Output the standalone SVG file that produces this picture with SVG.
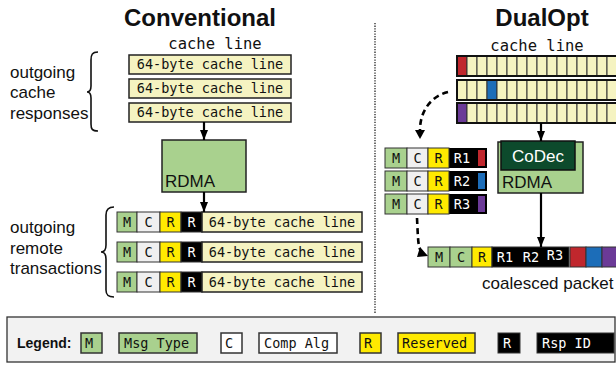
<svg xmlns="http://www.w3.org/2000/svg" width="616" height="365" viewBox="0 0 616 365">
<style>
.title{font-family:"Liberation Sans",Arial,sans-serif;font-weight:bold;font-size:24px;fill:#111}
.lbl{font-family:"Liberation Sans",Arial,sans-serif;font-size:17px;fill:#111}
.mono{font-family:"DejaVu Sans Mono","Liberation Mono",monospace;font-size:13.5px;fill:#111}
.monow{font-family:"DejaVu Sans Mono","Liberation Mono",monospace;font-size:13.5px;fill:#fff}
.hdr{font-family:"DejaVu Sans Mono","Liberation Mono",monospace;font-size:15.5px;fill:#111}
.cl{fill:#f5f3c1;stroke:#222;stroke-width:1.5}
.clrow{fill:none;stroke:#111;stroke-width:2}
.cell{fill:#f5f3c1;stroke:#333;stroke-width:1}
.m{fill:#a9d18e;stroke:#333;stroke-width:1}
.c{fill:#f0f0f0;stroke:#333;stroke-width:1}
.r{fill:#ffea00;stroke:#333;stroke-width:1}
.k{fill:#000;stroke:#333;stroke-width:1}
.brace{fill:none;stroke:#111;stroke-width:1.6}
.arr{stroke:#000;stroke-width:2.2;fill:none}
.dash{stroke:#000;stroke-width:2.6;fill:none;stroke-dasharray:6 4}
</style>
<defs>
<marker id="ah" viewBox="0 0 10 8" refX="10" refY="4" markerWidth="10" markerHeight="8" markerUnits="userSpaceOnUse" orient="auto">
<path d="M0,0 L10,4 L0,8 Z" fill="#000"/>
</marker>
</defs>

<!-- divider -->
<line x1="375" y1="23" x2="375" y2="313" stroke="#222" stroke-width="1.3" stroke-dasharray="1.3 1.3"/>

<!-- Conventional side -->
<g id="title-conv">
<text class="title" x="200" y="26" text-anchor="middle">Conventional</text>
<text class="hdr" x="215" y="49" text-anchor="middle">cache line</text>
</g>

<g id="label-responses">
<text class="lbl" x="10" y="78">outgoing</text>
<text class="lbl" x="10" y="98">cache</text>
<text class="lbl" x="10" y="119">responses</text>
<path class="brace" d="M98,52 C92,52 91,55 91,60 L91,86 C91,90 90,92 87,92 C90,92 91,94 91,98 L91,124 C91,129 92,131 98,131"/>
</g>

<g id="conv-cachelines">
<rect class="cl" x="129" y="55" width="162" height="19"/>
<text class="mono" x="210" y="69" text-anchor="middle">64-byte cache line</text>
<rect class="cl" x="129" y="79" width="162" height="19"/>
<text class="mono" x="210" y="93" text-anchor="middle">64-byte cache line</text>
<rect class="cl" x="129" y="103" width="162" height="19"/>
<text class="mono" x="210" y="117" text-anchor="middle">64-byte cache line</text>
</g>

<g id="conv-rdma">
<rect x="162" y="140" width="84" height="52" fill="#a9d18e" stroke="#222" stroke-width="1.5"/>
<text class="lbl" x="165" y="187">RDMA</text>
</g>

<g id="label-transactions">
<text class="lbl" x="10" y="233">outgoing</text>
<text class="lbl" x="10" y="254">remote</text>
<text class="lbl" x="10" y="274">transactions</text>
<path class="brace" d="M114,207 C108,207 106,210 106,215 L106,245 C106,249 105,252 101,252 C105,252 106,255 106,259 L106,290 C106,295 108,297 114,297"/>
</g>

<g id="conv-transactions">
<g>
<rect class="m" x="117" y="212" width="20" height="20"/><text class="mono" x="127" y="227" text-anchor="middle">M</text>
<rect class="c" x="137" y="212" width="23" height="20"/><text class="mono" x="148.5" y="227" text-anchor="middle">C</text>
<rect class="r" x="160" y="212" width="21" height="20"/><text class="mono" x="170.5" y="227" text-anchor="middle">R</text>
<rect class="k" x="181" y="212" width="21" height="20"/><text class="monow" x="191.5" y="227" text-anchor="middle">R</text>
<rect class="cl" x="202" y="212" width="160" height="20"/><text class="mono" x="282" y="227" text-anchor="middle">64-byte cache line</text>
</g>
<g>
<rect class="m" x="117" y="242" width="20" height="20"/><text class="mono" x="127" y="257" text-anchor="middle">M</text>
<rect class="c" x="137" y="242" width="23" height="20"/><text class="mono" x="148.5" y="257" text-anchor="middle">C</text>
<rect class="r" x="160" y="242" width="21" height="20"/><text class="mono" x="170.5" y="257" text-anchor="middle">R</text>
<rect class="k" x="181" y="242" width="21" height="20"/><text class="monow" x="191.5" y="257" text-anchor="middle">R</text>
<rect class="cl" x="202" y="242" width="160" height="20"/><text class="mono" x="282" y="257" text-anchor="middle">64-byte cache line</text>
</g>
<g>
<rect class="m" x="117" y="272" width="20" height="20"/><text class="mono" x="127" y="287" text-anchor="middle">M</text>
<rect class="c" x="137" y="272" width="23" height="20"/><text class="mono" x="148.5" y="287" text-anchor="middle">C</text>
<rect class="r" x="160" y="272" width="21" height="20"/><text class="mono" x="170.5" y="287" text-anchor="middle">R</text>
<rect class="k" x="181" y="272" width="21" height="20"/><text class="monow" x="191.5" y="287" text-anchor="middle">R</text>
<rect class="cl" x="202" y="272" width="160" height="20"/><text class="mono" x="282" y="287" text-anchor="middle">64-byte cache line</text>
</g>
</g>

<!-- DualOpt side -->
<g id="title-dual">
<text class="title" x="542" y="26" text-anchor="middle">DualOpt</text>
<text class="hdr" x="537" y="51" text-anchor="middle">cache line</text>
</g>

<g id="dual-cachelines">
<g id="row1">
<rect class="cell" x="457" y="56" width="10" height="20" fill="#c0272d" style="fill:#c0272d"/>
<rect class="cell" x="467" y="56" width="10" height="20"/><rect class="cell" x="477" y="56" width="10" height="20"/><rect class="cell" x="487" y="56" width="10" height="20"/><rect class="cell" x="497" y="56" width="10" height="20"/><rect class="cell" x="507" y="56" width="10" height="20"/><rect class="cell" x="517" y="56" width="10" height="20"/><rect class="cell" x="527" y="56" width="10" height="20"/><rect class="cell" x="537" y="56" width="10" height="20"/><rect class="cell" x="547" y="56" width="10" height="20"/><rect class="cell" x="557" y="56" width="10" height="20"/><rect class="cell" x="567" y="56" width="10" height="20"/><rect class="cell" x="577" y="56" width="10" height="20"/><rect class="cell" x="587" y="56" width="10" height="20"/><rect class="cell" x="597" y="56" width="10" height="20"/><rect class="cell" x="607" y="56" width="10" height="20"/>
<rect class="clrow" x="457" y="56" width="170" height="20"/>
</g>
<g id="row2">
<rect class="cell" x="457" y="80" width="10" height="20"/><rect class="cell" x="467" y="80" width="10" height="20"/><rect class="cell" x="477" y="80" width="10" height="20"/>
<rect class="cell" x="487" y="80" width="10" height="20" style="fill:#1c6db8"/>
<rect class="cell" x="497" y="80" width="10" height="20"/><rect class="cell" x="507" y="80" width="10" height="20"/><rect class="cell" x="517" y="80" width="10" height="20"/><rect class="cell" x="527" y="80" width="10" height="20"/><rect class="cell" x="537" y="80" width="10" height="20"/><rect class="cell" x="547" y="80" width="10" height="20"/><rect class="cell" x="557" y="80" width="10" height="20"/><rect class="cell" x="567" y="80" width="10" height="20"/><rect class="cell" x="577" y="80" width="10" height="20"/><rect class="cell" x="587" y="80" width="10" height="20"/><rect class="cell" x="597" y="80" width="10" height="20"/><rect class="cell" x="607" y="80" width="10" height="20"/>
<rect class="clrow" x="457" y="80" width="170" height="20"/>
</g>
<g id="row3">
<rect class="cell" x="457" y="103" width="10" height="20" style="fill:#6b3a97"/>
<rect class="cell" x="467" y="103" width="10" height="20"/><rect class="cell" x="477" y="103" width="10" height="20"/><rect class="cell" x="487" y="103" width="10" height="20"/><rect class="cell" x="497" y="103" width="10" height="20"/><rect class="cell" x="507" y="103" width="10" height="20"/><rect class="cell" x="517" y="103" width="10" height="20"/><rect class="cell" x="527" y="103" width="10" height="20"/><rect class="cell" x="537" y="103" width="10" height="20"/><rect class="cell" x="547" y="103" width="10" height="20"/><rect class="cell" x="557" y="103" width="10" height="20"/><rect class="cell" x="567" y="103" width="10" height="20"/><rect class="cell" x="577" y="103" width="10" height="20"/><rect class="cell" x="587" y="103" width="10" height="20"/><rect class="cell" x="597" y="103" width="10" height="20"/><rect class="cell" x="607" y="103" width="10" height="20"/>
<rect class="clrow" x="457" y="103" width="170" height="20"/>
</g>
</g>

<g id="dual-rdma">
<rect x="498" y="142" width="85" height="51" fill="#a9d18e" stroke="#222" stroke-width="1.5"/>
<text class="lbl" x="502" y="188">RDMA</text>
</g>
<g id="codec">
<rect x="501" y="141" width="74" height="29" fill="#0d4a2c" stroke="#111" stroke-width="1.5"/>
<text class="lbl" x="538" y="162" text-anchor="middle" fill="#fff" style="fill:#fff">CoDec</text>
</g>

<g id="dual-pieces">
<g>
<rect x="385" y="148" width="102" height="20" fill="#000"/>
<rect class="m" x="385" y="148" width="22" height="20"/><text class="mono" x="396" y="163" text-anchor="middle">M</text>
<rect class="c" x="407" y="148" width="21" height="20"/><text class="mono" x="417.5" y="163" text-anchor="middle">C</text>
<rect class="r" x="428" y="148" width="21" height="20"/><text class="mono" x="438.5" y="163" text-anchor="middle">R</text>
<text class="monow" x="462" y="163" text-anchor="middle">R1</text>
<rect x="478" y="150" width="7" height="16" fill="#c0272d"/>
</g>
<g>
<rect x="385" y="171" width="102" height="20" fill="#000"/>
<rect class="m" x="385" y="171" width="22" height="20"/><text class="mono" x="396" y="186" text-anchor="middle">M</text>
<rect class="c" x="407" y="171" width="21" height="20"/><text class="mono" x="417.5" y="186" text-anchor="middle">C</text>
<rect class="r" x="428" y="171" width="21" height="20"/><text class="mono" x="438.5" y="186" text-anchor="middle">R</text>
<text class="monow" x="462" y="186" text-anchor="middle">R2</text>
<rect x="478" y="173" width="7" height="16" fill="#1c6db8"/>
</g>
<g>
<rect x="385" y="194" width="102" height="20" fill="#000"/>
<rect class="m" x="385" y="194" width="22" height="20"/><text class="mono" x="396" y="209" text-anchor="middle">M</text>
<rect class="c" x="407" y="194" width="21" height="20"/><text class="mono" x="417.5" y="209" text-anchor="middle">C</text>
<rect class="r" x="428" y="194" width="21" height="20"/><text class="mono" x="438.5" y="209" text-anchor="middle">R</text>
<text class="monow" x="462" y="209" text-anchor="middle">R3</text>
<rect x="478" y="196" width="7" height="16" fill="#6b3a97"/>
</g>
</g>

<g id="coalesced-packet">
<rect class="m" x="428" y="247" width="22" height="20"/><text class="mono" x="439" y="262" text-anchor="middle">M</text>
<rect class="m" x="450" y="247" width="22" height="20"/><text class="mono" x="461" y="262" text-anchor="middle">C</text>
<rect class="r" x="472" y="247" width="20" height="20"/><text class="mono" x="482" y="262" text-anchor="middle">R</text>
<rect class="k" x="492" y="247" width="77" height="20"/>
<text class="monow" x="505" y="262" text-anchor="middle">R1</text>
<text class="monow" x="531" y="262" text-anchor="middle">R2</text>
<text class="monow" x="555" y="260" text-anchor="middle">R3</text>
<rect x="570" y="247" width="16" height="20" fill="#c0272d" stroke="#333" stroke-width="1"/>
<rect x="586" y="247" width="16" height="20" fill="#1c6db8" stroke="#333" stroke-width="1"/>
<rect x="602" y="247" width="16" height="20" fill="#6b3a97" stroke="#333" stroke-width="1"/>
<text class="lbl" x="482" y="289">coalesced packet</text>
</g>

<g id="connectors">
<line class="arr" x1="204" y1="122" x2="204" y2="140" marker-end="url(#ah)"/>
<line class="arr" x1="204" y1="192" x2="204" y2="212" marker-end="url(#ah)"/>
<line class="arr" x1="541" y1="123" x2="541" y2="141" marker-end="url(#ah)"/>
<line class="arr" x1="541" y1="193" x2="541" y2="247" marker-end="url(#ah)"/>
<path class="dash" d="M448,92 C432,96 420,110 420,130" />
<path d="M415,130 L425,130 L420,139 Z" fill="#000"/>
<path class="dash" d="M417,218 C418,238 418,250 422,252"/>
<path d="M420,247 L428,256 L417,257 Z" fill="#000"/>
</g>

<g id="legend">
<rect x="7" y="317" width="608" height="45" fill="#f2f2f2" stroke="#333" stroke-width="1.3"/>
<text x="17" y="348" font-family="Liberation Sans, Arial, sans-serif" font-weight="bold" font-size="14" fill="#111">Legend:</text>
<rect class="m" x="81" y="333" width="21" height="20" style="stroke-width:1.5"/><text class="mono" x="85" y="348">M</text>
<rect class="m" x="119" y="333" width="78" height="20" style="stroke-width:1.5"/><text class="mono" x="124" y="348">Msg Type</text>
<rect x="221" y="333" width="21" height="20" fill="#fff" stroke="#333" stroke-width="1.5"/><text class="mono" x="225" y="348">C</text>
<rect x="259" y="333" width="78" height="20" fill="#fff" stroke="#333" stroke-width="1.5"/><text class="mono" x="264" y="348">Comp Alg</text>
<rect class="r" x="360" y="333" width="21" height="20" style="stroke-width:1.5"/><text class="mono" x="364" y="348">R</text>
<rect class="r" x="398" y="333" width="77" height="20" style="stroke-width:1.5"/><text class="mono" x="402" y="348">Reserved</text>
<rect class="k" x="498" y="333" width="22" height="20"/><text class="monow" x="503" y="348">R</text>
<rect class="k" x="537" y="333" width="77" height="20"/><text class="monow" x="542" y="348">Rsp ID</text>
</g>
</svg>
